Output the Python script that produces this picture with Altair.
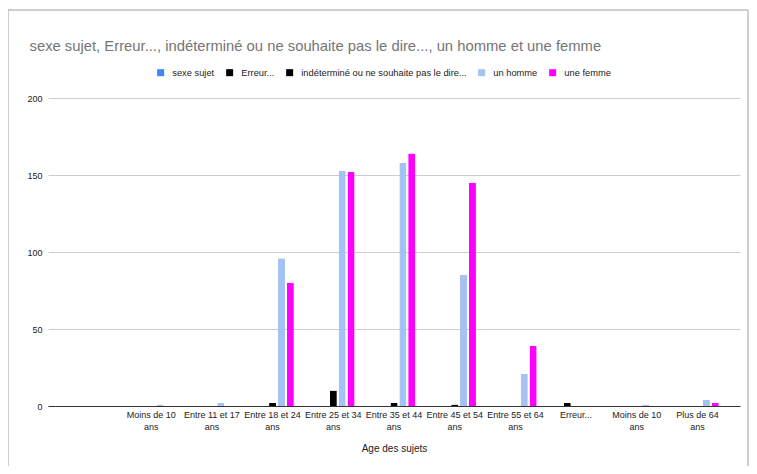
import altair as alt
import pandas as pd

categories = ["", "Moins de 10 ans", "Entre 11 et 17 ans", "Entre 18 et 24 ans",
              "Entre 25 et 34 ans", "Entre 35 et 44 ans", "Entre 45 et 54 ans",
              "Entre 55 et 64 ans", "Erreur...", "Moins de 10 ans", "Plus de 64 ans"]
series = ["sexe sujet", "Erreur...", "indéterminé ou ne souhaite pas le dire...",
          "un homme", "une femme"]
colors = ["#4285F4", "#000000", "#000000", "#A4C2F4", "#FF00FF"]

sexe_sujet = [0, 0, 0, 0, 0, 0, 0, 0, 0, 0, 0]
erreur = [0, 0, 0, 0, 0, 0, 0, 0, 2, 0, 0]
indetermine = [0, 0, 0, 2, 10, 2, 1, 0, 0, 0, 0]
un_homme = [0, 1, 2, 96, 153, 158, 85, 21, 0, 1, 4]
une_femme = [0, 0, 0, 80, 152, 164, 145, 39, 0, 0, 2]
values = [sexe_sujet, erreur, indetermine, un_homme, une_femme]

y_ticks = [0, 50, 100, 150, 200]

keys = []
for i, c in enumerate(categories):
    lab = c[:-4] + "|ans" if c.endswith(" ans") else c
    keys.append(f"{i:02d}|{lab}")

rows = []
for s, vals in zip(series, values):
    for k, v in zip(keys, vals):
        rows.append({"cat": k, "serie": s, "val": v})
df = pd.DataFrame(rows)

FONT = "Liberation Sans"

bars = alt.Chart(df).mark_bar(cornerRadiusTopLeft=1, cornerRadiusTopRight=1).encode(
    x=alt.X("cat:N", sort=keys,
            scale=alt.Scale(paddingInner=0.3, paddingOuter=0.35),
            axis=alt.Axis(title="Age des sujets",
                          labelExpr="slice(split(datum.value, '|'), 1)",
                          labelAngle=0, ticks=False, domainColor="#333333",
                          labelFontSize=9, labelColor="#222222", labelPadding=4,
                          labelLineHeight=12, labelFont=FONT,
                          titleFont=FONT, titleFontSize=10, titleFontWeight="normal",
                          titleColor="#222222", titlePadding=12)),
    xOffset=alt.XOffset("serie:N", sort=series, scale=alt.Scale(paddingInner=0.2)),
    y=alt.Y("val:Q", scale=alt.Scale(domain=[0, 200]),
            axis=alt.Axis(values=y_ticks, title=None, domain=False, ticks=False,
                          gridColor="#cccccc", labelPadding=6, labelFontSize=9,
                          labelColor="#222222", labelFont=FONT)),
    color=alt.Color("serie:N", sort=series,
                    scale=alt.Scale(domain=series, range=colors),
                    legend=alt.Legend(orient="none", legendX=108, legendY=-30,
                                      direction="horizontal", columns=5, title=None,
                                      symbolType="square", symbolSize=49,
                                      symbolStrokeWidth=0, labelFontSize=9.3,
                                      labelFont=FONT, labelColor="#222222",
                                      labelOffset=7, columnPadding=10, labelLimit=300)),
)

border = alt.Chart(pd.DataFrame({"a": [0]})).mark_rect(
    fill=None, stroke="#9e9e9e", strokeWidth=1
).encode(x=alt.value(-40), x2=alt.value(700), y=alt.value(-88), y2=alt.value(400))

chart = alt.layer(border, bars).properties(
    width=692, height=308,
    padding={"left": 40, "top": 90, "right": 9, "bottom": 60},
    autosize=alt.AutoSizeParams(type="none"),
    title=alt.TitleParams(
        "sexe sujet, Erreur..., indéterminé ou ne souhaite pas le dire..., un homme et une femme",
        anchor="start", dx=22, dy=48, fontSize=14.8, font=FONT, fontWeight="normal",
        color="#757575"),
).configure_view(stroke=None)

chart.save("out.html", embed_options={"renderer": "svg", "actions": False})
